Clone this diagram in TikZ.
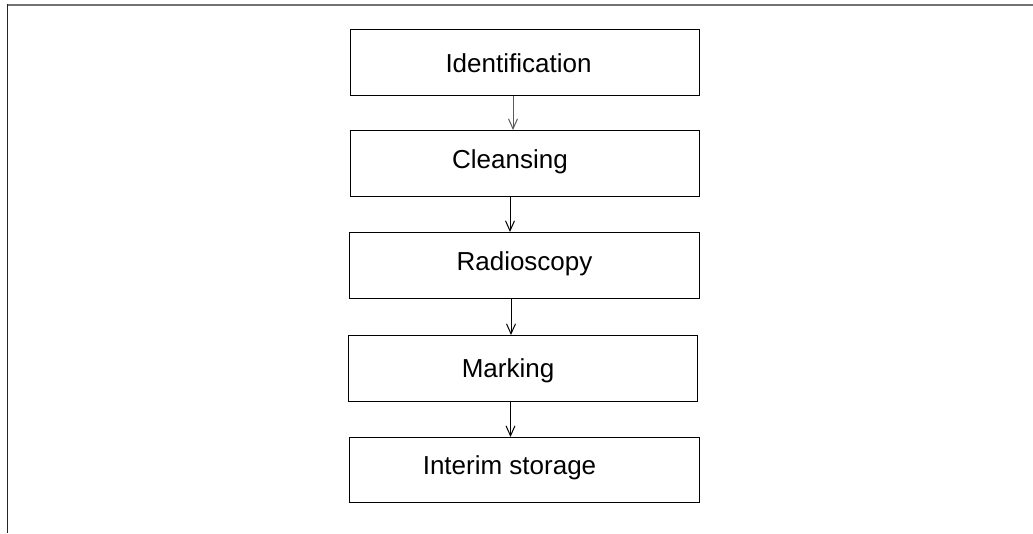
\documentclass[tikz,border=0pt]{standalone}
\usepackage{fontspec}
\setmainfont{Liberation Sans}
\usetikzlibrary{arrows.meta}
\tikzset{
  stagebox/.style={draw=black, line width=1.2pt, rectangle, inner sep=0pt, anchor=north west},
  stagetext/.style={anchor=base, inner sep=0pt, font=\fontsize{26}{30}\selectfont},
  flowarrow/.style={line width=1pt, -{Straight Barb[length=10pt,width=9pt]}},
}
\begin{document}
\begin{tikzpicture}[x=1pt,y=-1pt]
\useasboundingbox (0,0) rectangle (1033,533);
% frame lines
\draw[line width=2pt, draw=black!55] (8,4.5) -- (1033,4.5);
\draw[line width=1.8pt, draw=black!85] (7.5,3.5) -- (7.5,533);
% boxes
\node[stagebox, minimum width=349pt, minimum height=66pt] (b1) at (350,29) {};
\node[stagebox, minimum width=349pt, minimum height=66pt] (b2) at (350,130) {};
\node[stagebox, minimum width=350pt, minimum height=66pt] (b3) at (349,232) {};
\node[stagebox, minimum width=349pt, minimum height=66pt] (b4) at (348,335) {};
\node[stagebox, minimum width=350pt, minimum height=65pt] (b5) at (349,437) {};
% texts
\node[stagetext] (t1) at (518.5,72) {Identification};
\node[stagetext] (t2) at (510,168) {Cleansing};
\node[stagetext] (t3) at (524.5,270) {Radioscopy};
\node[stagetext] (t4) at (508,377) {Marking};
\node[stagetext] (t5) at (509.5,474) {Interim storage};
% arrow columns
\coordinate (c1) at (513,0);
\coordinate (c2) at (510,0);
\coordinate (c3) at (511,0);
\coordinate (c4) at (510.5,0);
\draw[flowarrow, draw=black!65] (b1.south -| c1) -- (b2.north -| c1);
\draw[flowarrow] (b2.south -| c2) -- (b3.north -| c2);
\draw[flowarrow] (b3.south -| c3) -- (b4.north -| c3);
\draw[flowarrow] (b4.south -| c4) -- (b5.north -| c4);
\end{tikzpicture}
\end{document}
